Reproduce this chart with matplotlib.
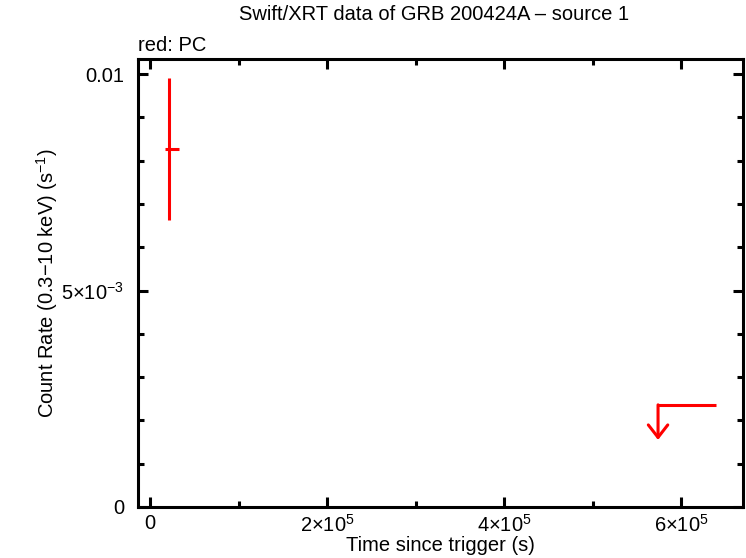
import matplotlib
matplotlib.use('Agg')
import matplotlib.pyplot as plt
from matplotlib.ticker import MultipleLocator, FixedLocator, FixedFormatter

plt.rcParams['font.family'] = ['Liberation Sans', 'DejaVu Sans']
plt.rcParams['mathtext.fontset'] = 'custom'
plt.rcParams['mathtext.rm'] = 'Liberation Sans'
plt.rcParams['mathtext.it'] = 'Liberation Sans'

# PC detection
pc_time = [21800]
pc_time_lo = [4900]
pc_time_hi = [11000]
pc_rate = [0.00827]
pc_rate_lo = [0.00165]
pc_rate_hi = [0.00165]

# PC upper limit
ul_time = [574000]
ul_time_hi = [66000]
ul_rate = [0.00236]
ul_arrow = [0.00081]

x_major = [0, 2e5, 4e5, 6e5]
x_labels = ['0', r'2$\times$10$^{5}$', r'4$\times$10$^{5}$', r'6$\times$10$^{5}$']
y_major = [0, 0.005, 0.01]
y_labels = ['0', r'5$\times$10$^{-3}$', '0.01']

red = '#ff0000'
fs = 14.5

fig = plt.figure(figsize=(7.46, 5.58), dpi=100)
ax = fig.add_axes([138 / 746, 1 - 507 / 558, 605 / 746, 448 / 558])

ax.errorbar(pc_time, pc_rate, xerr=[pc_time_lo, pc_time_hi],
            yerr=[pc_rate_lo, pc_rate_hi], fmt='none', ecolor=red,
            elinewidth=2.2, capsize=0)

for t, dt, r, dr in zip(ul_time, ul_time_hi, ul_rate, ul_arrow):
    ax.plot([t, t + dt], [r, r], color=red, lw=2.2, solid_capstyle='butt')
    ax.annotate('', xy=(t, r - dr), xytext=(t, r),
                arrowprops=dict(arrowstyle='->,head_length=0.45,head_width=0.35',
                                color=red, lw=2.2, mutation_scale=20,
                                shrinkA=0, shrinkB=0))

ax.set_xlim(-13600, 670000)
ax.set_ylim(0, 0.01035)

ax.xaxis.set_major_locator(FixedLocator(x_major))
ax.xaxis.set_major_formatter(FixedFormatter(x_labels))
ax.xaxis.set_minor_locator(MultipleLocator(1e5))
ax.yaxis.set_major_locator(FixedLocator(y_major))
ax.yaxis.set_major_formatter(FixedFormatter(y_labels))
ax.yaxis.set_minor_locator(MultipleLocator(0.001))

ax.tick_params(which='both', direction='in', top=True, right=True,
               width=2.2, labelsize=fs)
ax.tick_params(axis='x', pad=5)
ax.tick_params(axis='y', pad=10)
ax.tick_params(which='major', length=7)
ax.tick_params(which='minor', length=4)
for s in ax.spines.values():
    s.set_linewidth(2.2)

ax.set_xlabel('Time since trigger (s)', fontsize=fs, labelpad=0)
ax.set_ylabel(r'Count Rate (0.3$-$10 keV) (s$^{-1}$)', fontsize=fs, labelpad=0.5)
ax.set_title('Swift/XRT data of GRB 200424A \u2013 source 1', fontsize=fs,
             pad=28, x=0.49)
ax.text(0, 1.01, 'red: PC', transform=ax.transAxes, fontsize=fs,
        ha='left', va='bottom')

fig.savefig('out.png', dpi=100)
